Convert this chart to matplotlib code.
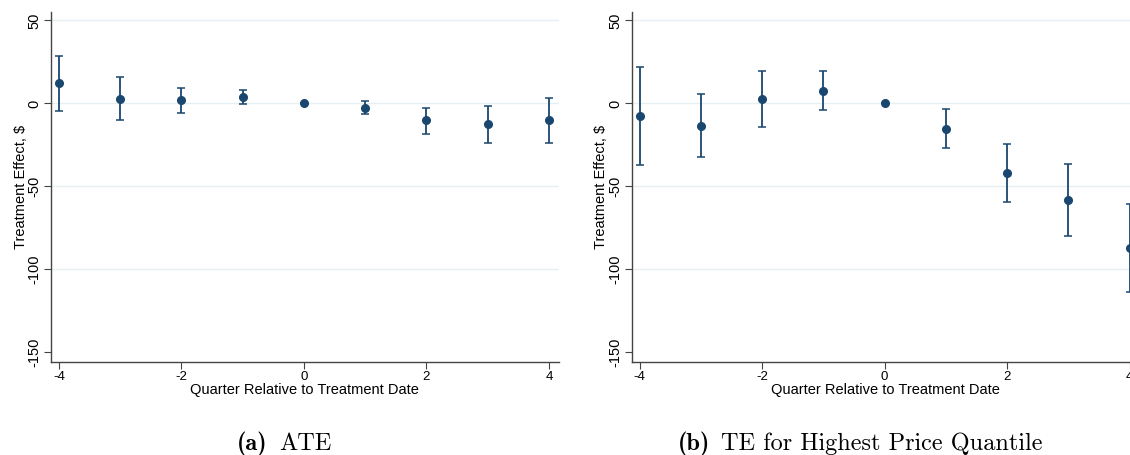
import matplotlib
matplotlib.use("Agg")
import matplotlib.pyplot as plt

# event-study estimates, quarters relative to treatment
quarters = [-4, -3, -2, -1, 0, 1, 2, 3, 4]

ate_est = [12.2, 2.7, 1.9, 4.1, 0.0, -2.5, -10.1, -12.5, -10.1]
ate_hi = [28.8, 15.8, 9.5, 8.3, 0.0, 1.3, -2.5, -1.3, 3.3]
ate_lo = [-4.5, -9.9, -5.9, -0.3, 0.0, -6.5, -18.2, -23.6, -24.0]

top_est = [-7.7, -13.4, 2.9, 7.7, 0.0, -15.6, -41.9, -58.1, -87.5]
top_hi = [21.8, 5.7, 19.8, 19.6, 0.0, -3.5, -24.6, -36.4, -60.7]
top_lo = [-37.0, -32.6, -14.0, -3.9, 0.0, -27.0, -59.3, -80.0, -114.0]

yticks = [50, 0, -50, -100, -150]
xticks = [-4, -2, 0, 2, 4]

navy = "#1a476f"
plt.rcParams["font.family"] = ["Liberation Sans", "DejaVu Sans"]
plt.rcParams["axes.unicode_minus"] = False


def panel(ax, est, lo, hi):
    yerr = [[e - l for e, l in zip(est, lo)], [h - e for e, h in zip(est, hi)]]
    ax.errorbar(quarters, est, yerr=yerr, fmt="o", color=navy, ms=5.5,
                ecolor=navy, elinewidth=1.3, capsize=2.6, capthick=1.1, zorder=3)
    ax.set_xlim(-4.13, 4.16)
    ax.set_ylim(-155.8, 55.3)
    ax.set_xticks(xticks)
    ax.set_xticklabels([str(t) for t in xticks], fontsize=9.5)
    ax.set_yticks(yticks)
    ax.set_yticklabels([str(t) for t in yticks], rotation=90, va="center", fontsize=10.5)
    for t in [50, 0, -50, -100]:
        ax.axhline(t, color="#e6eff1", lw=1, zorder=0)
    for s in ["top", "right"]:
        ax.spines[s].set_visible(False)
    for s in ["left", "bottom"]:
        ax.spines[s].set_color("#444444")
        ax.spines[s].set_linewidth(1.0)
    ax.tick_params(direction="out", length=5, width=0.8, color="#444444", pad=2)
    ax.set_xlabel("Quarter Relative to Treatment Date", fontsize=10.5, labelpad=0)
    ax.set_ylabel("Treatment Effect, $", fontsize=10.5)
    ax.yaxis.set_label_coords(-0.046, 0.5)


fig = plt.figure(figsize=(11.3, 4.55), dpi=100)
ax1 = fig.add_axes([51 / 1130, 93.3 / 455, 507.7 / 1130, 350 / 455])
ax2 = fig.add_axes([631.7 / 1130, 93.3 / 455, 507.7 / 1130, 350 / 455])
panel(ax1, ate_est, ate_lo, ate_hi)
panel(ax2, top_est, top_lo, top_hi)

# sub-captions: bold tag, then the title
cap_y = 5 / 455
fig.text(236.7 / 1130, cap_y, "(a)", family="cmb10", fontsize=17.5, va="baseline")
fig.text(279 / 1130, cap_y, "ATE", family="cmr10", fontsize=17.5, va="baseline")
fig.text(678 / 1130, cap_y, "(b)", family="cmb10", fontsize=17.5, va="baseline")
fig.text(721 / 1130, cap_y, "TE for Highest Price Quantile", family="cmr10",
         fontsize=17.5, va="baseline")

fig.savefig("out.png", dpi=100)
